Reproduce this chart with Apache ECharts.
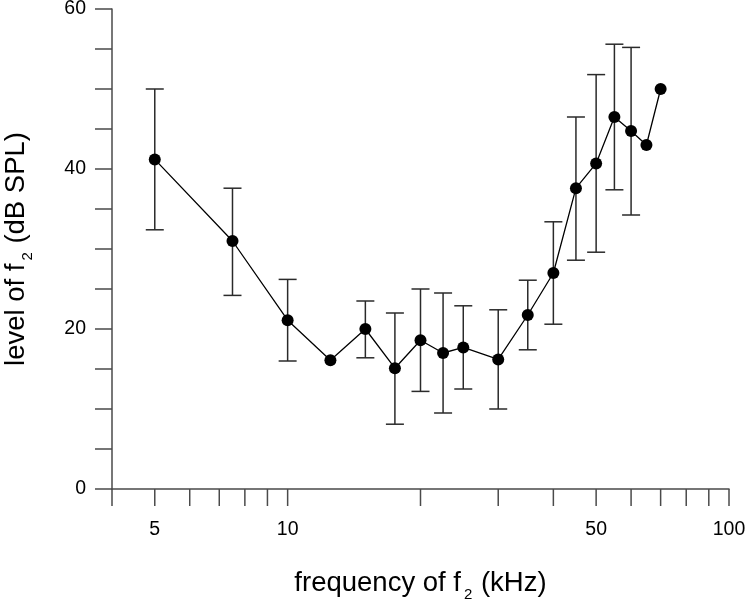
<!DOCTYPE html>
<html><head><meta charset="utf-8">
<script src="https://cdn.jsdelivr.net/npm/echarts@6/dist/echarts.min.js"></script>
<style>html,body{margin:0;padding:0;background:#fff}#c{width:750px;height:600px}</style>
</head><body><div id="c"></div>
<script>
// f2 frequency (kHz)
const freqs = [5, 7.5, 10, 12.5, 15, 17.5, 20, 22.5, 25, 30, 35, 40, 45, 50, 55, 60, 65, 70];
// level of f2 (dB SPL)
const levels = [41.2, 31.0, 21.1, 16.1, 20.0, 15.1, 18.6, 17.0, 17.7, 16.2, 21.75, 27.0, 37.6, 40.7, 46.5, 44.75, 43.0, 50.0];
// error bar ends
const errHigh = [50.0, 37.6, 26.2, null, 23.5, 22.0, 25.0, 24.5, 22.9, 22.4, 26.1, 33.4, 46.5, 51.8, 55.6, 55.2, null, null];
const errLow = [32.4, 24.2, 16.0, null, 16.4, 8.1, 12.2, 9.5, 12.5, 10.0, 17.4, 20.6, 28.6, 29.6, 37.4, 34.25, null, null];
// axis ticks / labels
const xTickValues = [4, 5, 6, 7, 8, 9, 10, 20, 30, 40, 50, 60, 70, 80, 90, 100];
const xTickLabels = [5, 10, 50, 100];
const yTickLabels = [0, 20, 40, 60];

const FONT = "'Liberation Sans', Arial, Helvetica, sans-serif";
const AXIS_COLOR = '#4a4a4a';

const chart = echarts.init(document.getElementById('c'), null, {renderer: 'canvas'});

const lineData = freqs.map((f, i) => [f, levels[i]]);
const errData = [];
freqs.forEach((f, i) => {
  if (errHigh[i] != null && errLow[i] != null) errData.push([f, errLow[i], errHigh[i]]);
});

const nameRich = {
  sub: {fontSize: 15, fontFamily: FONT, color: '#000', verticalAlign: 'bottom', lineHeight: 38, padding: [0, 1, 0, 3]}
};

chart.setOption({
  animation: false,
  backgroundColor: '#fff',
  grid: {left: 112, right: 21, top: 9, bottom: 111, containLabel: false, outerBoundsMode: 'none'},
  xAxis: {
    type: 'log',
    logBase: 10,
    min: 4,
    max: 100,
    name: 'frequency of f{sub|2} (kHz)',
    nameLocation: 'middle',
    nameGap: 75,
    nameTextStyle: {fontSize: 27.5, fontFamily: FONT, color: '#000', lineHeight: 38, rich: nameRich},
    axisLine: {show: true, lineStyle: {color: AXIS_COLOR, width: 1.5}},
    axisTick: {show: false},
    minorTick: {show: false},
    axisLabel: {show: false},
    splitLine: {show: false}
  },
  yAxis: {
    type: 'value',
    min: 0,
    max: 60,
    interval: 5,
    name: 'level of f{sub|2} (dB SPL)',
    nameLocation: 'middle',
    nameGap: 77,
    nameTextStyle: {fontSize: 27.5, fontFamily: FONT, color: '#000', lineHeight: 38, rich: nameRich},
    axisLine: {show: true, lineStyle: {color: AXIS_COLOR, width: 1.5}},
    axisTick: {show: true, length: 17, lineStyle: {color: AXIS_COLOR, width: 1.5}},
    axisLabel: {
      margin: 26,
      fontSize: 19.5,
      fontFamily: FONT,
      color: '#000',
      formatter: v => (yTickLabels.indexOf(v) >= 0 ? String(v) : '')
    },
    splitLine: {show: false}
  },
  series: [
    {
      type: 'custom',
      name: 'xticks',
      silent: true,
      clip: false,
      data: xTickValues.map(v => [v, 0]),
      encode: {x: 0, y: 1},
      renderItem: (params, api) => {
        const p = api.coord([api.value(0), 0]);
        return {
          type: 'line',
          shape: {x1: p[0], y1: p[1], x2: p[0], y2: p[1] + 17},
          style: {stroke: AXIS_COLOR, lineWidth: 1.5}
        };
      }
    },
    {
      type: 'custom',
      name: 'xlabels',
      silent: true,
      clip: false,
      data: xTickLabels.map(v => [v, 0]),
      encode: {x: 0, y: 1},
      renderItem: (params, api) => {
        const v = api.value(0);
        const p = api.coord([v, 0]);
        return {
          type: 'text',
          x: p[0],
          y: p[1] + 31,
          style: {text: String(v), fill: '#000', font: '19.5px ' + FONT, textAlign: 'center', textVerticalAlign: 'top'}
        };
      }
    },
    {
      type: 'custom',
      name: 'errorbars',
      silent: true,
      clip: false,
      data: errData,
      encode: {x: 0, y: [1, 2]},
      z: 2,
      renderItem: (params, api) => {
        const x = api.value(0);
        const pLo = api.coord([x, api.value(1)]);
        const pHi = api.coord([x, api.value(2)]);
        const w = 9;
        const st = {stroke: '#2a2a2a', lineWidth: 1.5};
        return {
          type: 'group',
          children: [
            {type: 'line', shape: {x1: pLo[0], y1: pLo[1], x2: pHi[0], y2: pHi[1]}, style: st},
            {type: 'line', shape: {x1: pHi[0] - w, y1: pHi[1], x2: pHi[0] + w, y2: pHi[1]}, style: st},
            {type: 'line', shape: {x1: pLo[0] - w, y1: pLo[1], x2: pLo[0] + w, y2: pLo[1]}, style: st}
          ]
        };
      }
    },
    {
      type: 'line',
      name: 'level',
      data: lineData,
      z: 3,
      symbol: 'circle',
      symbolSize: 12,
      itemStyle: {color: '#000'},
      lineStyle: {color: '#000', width: 1.3},
      silent: true
    }
  ]
});
</script>
</body></html>
